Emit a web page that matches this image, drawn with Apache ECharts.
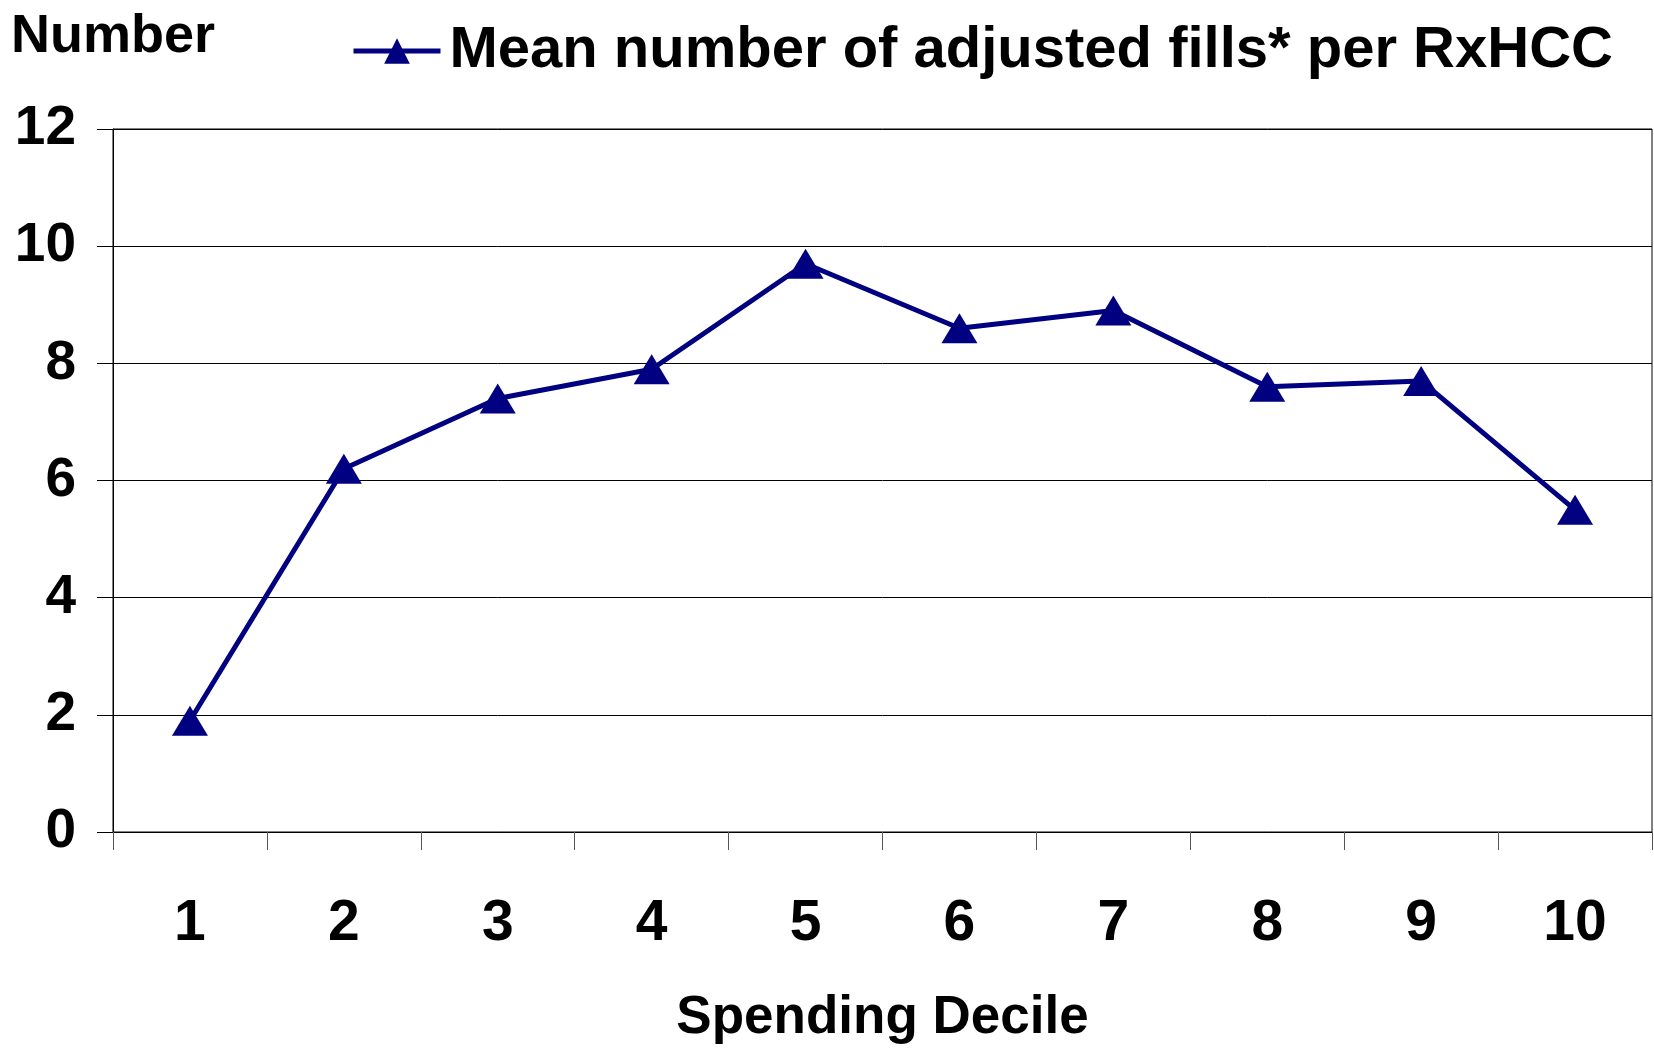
<!DOCTYPE html>
<html>
<head>
<meta charset="utf-8">
<script src="https://cdn.jsdelivr.net/npm/echarts@6/dist/echarts.min.js"></script>
<style>
html,body{margin:0;padding:0;background:#fff;}
#chart{width:1654px;height:1050px;}
</style>
</head>
<body>
<div id="chart"></div>
<script>
const categories = ['1','2','3','4','5','6','7','8','9','10'];
const meanFills = [1.9, 6.2, 7.4, 7.9, 9.7, 8.6, 8.9, 7.6, 7.7, 5.5];
const seriesName = 'Mean number of adjusted fills* per RxHCC';
const yTitle = 'Number';
const xTitle = 'Spending Decile';

const FONT = '"Liberation Sans", Arial, sans-serif';
const chart = echarts.init(document.getElementById('chart'), null, {renderer: 'canvas'});
chart.setOption({
  backgroundColor: '#ffffff',
  animation: false,
  title: {
    text: yTitle, left: 11, top: 10, padding: 0,
    textStyle: {fontFamily: FONT, fontWeight: 'bold', fontSize: 54, color: '#000'}
  },
  legend: {
    data: [seriesName], left: 351, top: 22, padding: 0,
    itemWidth: 87, itemHeight: 32, itemGap: 10,
    lineStyle: {width: 5},
    textStyle: {fontFamily: FONT, fontWeight: 'bold', fontSize: 58, color: '#000', padding: [0,0,0,4]}
  },
  grid: {left: 113, right: 2, top: 129, bottom: 211, show: true, borderColor: '#000', borderWidth: 1, containLabel: false},
  xAxis: {
    type: 'category', data: categories, boundaryGap: true,
    axisLine: {lineStyle: {color: '#000', width: 1}},
    axisTick: {show: true, length: 18, lineStyle: {color: '#555'}},
    axisLabel: {fontFamily: FONT, fontWeight: 'bold', fontSize: 57, color: '#000', margin: 64},
    name: xTitle, nameLocation: 'middle', nameGap: 160,
    nameTextStyle: {fontFamily: FONT, fontWeight: 'bold', fontSize: 53, color: '#000'}
  },
  yAxis: {
    type: 'value', min: 0, max: 12, interval: 2,
    axisLine: {show: true, lineStyle: {color: '#000', width: 1}},
    axisTick: {show: true, length: 16, lineStyle: {color: '#000'}},
    splitLine: {show: true, lineStyle: {color: '#000', width: 1}},
    axisLabel: {fontFamily: FONT, fontWeight: 'bold', fontSize: 55, color: '#000', margin: 37}
  },
  series: [{
    name: seriesName, type: 'line', data: meanFills,
    symbol: 'triangle', symbolSize: [36, 30],
    lineStyle: {color: '#000080', width: 5},
    itemStyle: {color: '#000080'}
  }]
});
</script>
</body>
</html>
